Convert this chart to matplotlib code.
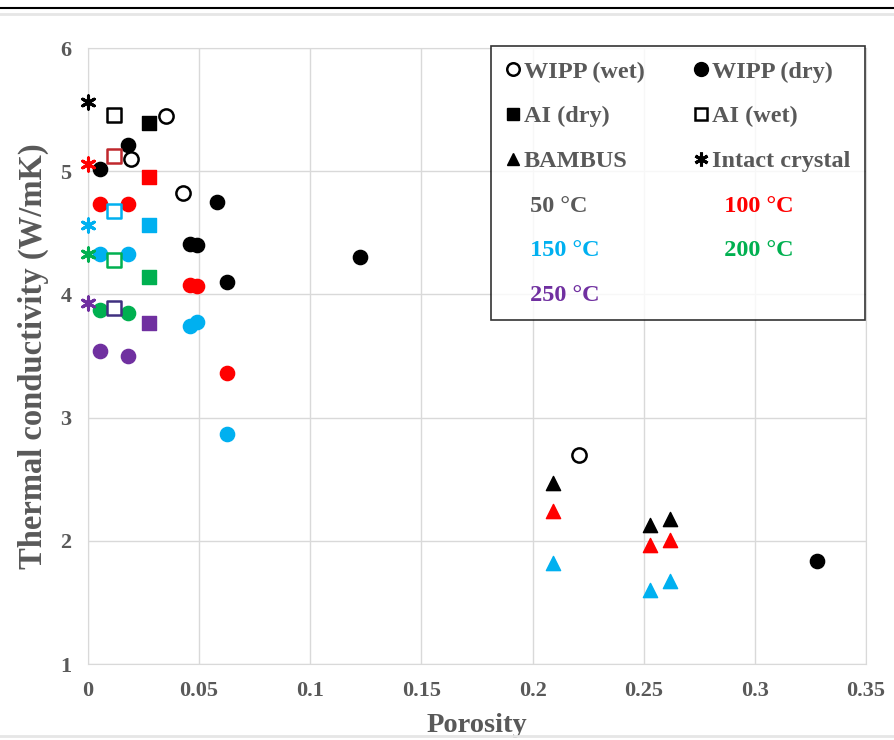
import numpy as np
import matplotlib
matplotlib.use('Agg')
import matplotlib.pyplot as plt
from matplotlib.lines import Line2D

plt.rcParams['font.family'] = ['Liberation Serif', 'DejaVu Serif']
plt.rcParams['font.weight'] = 'bold'

temps = ['50', '100', '150', '200', '250']
tcolors = ['black', '#FF0000', '#00B0F0', '#00B050', '#7030A0']
sq_edge = ['black', '#C0282D', '#00B0F0', '#00B050', '#403080']

# WIPP (wet), only at 50 C
wipp_wet_x = [0.0192, 0.035, 0.0429, 0.221]
wipp_wet_y = [5.10, 5.45, 4.82, 2.70]

# WIPP (dry), per temperature
wipp_dry_x = [
    [0.0054, 0.0181, 0.0459, 0.0492, 0.0579, 0.0624, 0.1224, 0.328],
    [0.0054, 0.0181, 0.0459, 0.0492, 0.0624],
    [0.0054, 0.0181, 0.0459, 0.0492, 0.0624],
    [0.0054, 0.0181],
    [0.0054, 0.0181],
]
wipp_dry_y = [
    [5.02, 5.21, 4.41, 4.40, 4.75, 4.10, 4.30, 1.84],
    [4.73, 4.73, 4.08, 4.07, 3.36],
    [4.33, 4.33, 3.74, 3.78, 2.87],
    [3.87, 3.85],
    [3.54, 3.50],
]

# AI, one porosity each
ai_dry_x = 0.0275
ai_dry_y = [5.39, 4.95, 4.56, 4.14, 3.77]
ai_wet_x = 0.0118
ai_wet_y = [5.46, 5.12, 4.68, 4.28, 3.89]

# intact crystal at zero porosity
intact_x = 0.0
intact_y = [5.56, 5.06, 4.56, 4.33, 3.93]

# BAMBUS, 50/100/150 C
bambus_x = [0.209, 0.253, 0.262]
bambus_y = [
    [2.47, 2.13, 2.18],
    [2.24, 1.97, 2.01],
    [1.82, 1.60, 1.67],
]

xticks = [0, 0.05, 0.1, 0.15, 0.2, 0.25, 0.3, 0.35]
xticklabels = ['0', '0.05', '0.1', '0.15', '0.2', '0.25', '0.3', '0.35']
yticks = [1, 2, 3, 4, 5, 6]

gray = '#595959'
ms = 105

fig = plt.figure(figsize=(8.94, 7.4), dpi=100)
ax = fig.add_axes([0.0984, 0.1027, 0.8703, 0.8324])

for i in range(5):
    c = tcolors[i]
    ax.scatter([intact_x], [intact_y[i]], marker=(6, 2, 0), s=90, color=c,
               linewidths=2.2, zorder=3, clip_on=False)
    ax.scatter([ai_wet_x], [ai_wet_y[i]], marker='s', s=ms, facecolors='white',
               edgecolors=sq_edge[i], linewidths=1.8, zorder=3)
    ax.scatter([ai_dry_x], [ai_dry_y[i]], marker='s', s=ms, color=c, zorder=3)
    ax.scatter(wipp_dry_x[i], wipp_dry_y[i], marker='o', s=ms, color=c, zorder=3)
    if i < 3:
        ax.scatter(bambus_x, bambus_y[i], marker='^', s=ms, color=c, zorder=3)

ax.scatter(wipp_wet_x, wipp_wet_y, marker='o', s=ms, facecolors='white',
           edgecolors='black', linewidths=1.8, zorder=3)

ax.set_xlim(0, 0.35)
ax.set_ylim(1, 6)
ax.set_xticks(xticks)
ax.set_xticklabels(xticklabels)
ax.set_yticks(yticks)
ax.grid(True, color='#D9D9D9', linewidth=1)
ax.set_axisbelow(True)
for s in ax.spines.values():
    s.set_color('#D9D9D9')
ax.tick_params(length=0, labelsize=16, labelcolor=gray, pad=12)
ax.set_xlabel('Porosity', fontsize=20.5, fontweight='bold', color=gray, labelpad=9)
ax.set_ylabel('Thermal conductivity (W/mK)', fontsize=23.5, fontweight='bold',
              color=gray, labelpad=8)

# legend: markers for data sets, coloured text for temperatures
none = Line2D([], [], linestyle='none', marker=None)
handles = [
    Line2D([], [], ls='none', marker='o', mfc='white', mec='black', mew=1.8, ms=9),
    Line2D([], [], ls='none', marker='s', color='black', ms=9),
    Line2D([], [], ls='none', marker='^', color='black', ms=9),
    none, none, none,
    Line2D([], [], ls='none', marker='o', color='black', ms=10),
    Line2D([], [], ls='none', marker='s', mfc='white', mec='black', mew=1.8, ms=9),
    Line2D([], [], ls='none', marker=(6, 2, 0), color='black', mew=2.2, ms=10),
    none, none,
]
labels = ['WIPP (wet)', 'AI (dry)', 'BAMBUS', ' 50 °C', ' 150 °C', ' 250 °C',
          'WIPP (dry)', 'AI (wet)', 'Intact crystal', '  100 °C', '  200 °C']
lcolors = [gray, gray, gray, gray, tcolors[2], tcolors[4],
           gray, gray, gray, tcolors[1], tcolors[3]]
leg = ax.legend(handles, labels, ncol=2, loc='upper left',
                bbox_to_anchor=(0.518, 1.003, 0.481, 0.0), mode='expand',
                fontsize=17.5, frameon=True, fancybox=False, borderaxespad=0,
                handlelength=0.6, handletextpad=0.15, labelspacing=0.93,
                borderpad=0.6, columnspacing=0.8)
leg.get_frame().set_edgecolor('black')
leg.get_frame().set_linewidth(1.2)
for t, c in zip(leg.get_texts(), lcolors):
    t.set_color(c)

fig.add_artist(Line2D([0, 1], [1 - 8 / 740, 1 - 8 / 740], color='black',
                      linewidth=1.5, transform=fig.transFigure))
fig.add_artist(Line2D([0, 1], [1 - 14 / 740, 1 - 14 / 740], color='#E6E6E6',
                      linewidth=2, transform=fig.transFigure))
fig.add_artist(Line2D([0, 1], [4 / 740, 4 / 740], color='#E6E6E6',
                      linewidth=2, transform=fig.transFigure))

fig.savefig('out.png', dpi=100)
